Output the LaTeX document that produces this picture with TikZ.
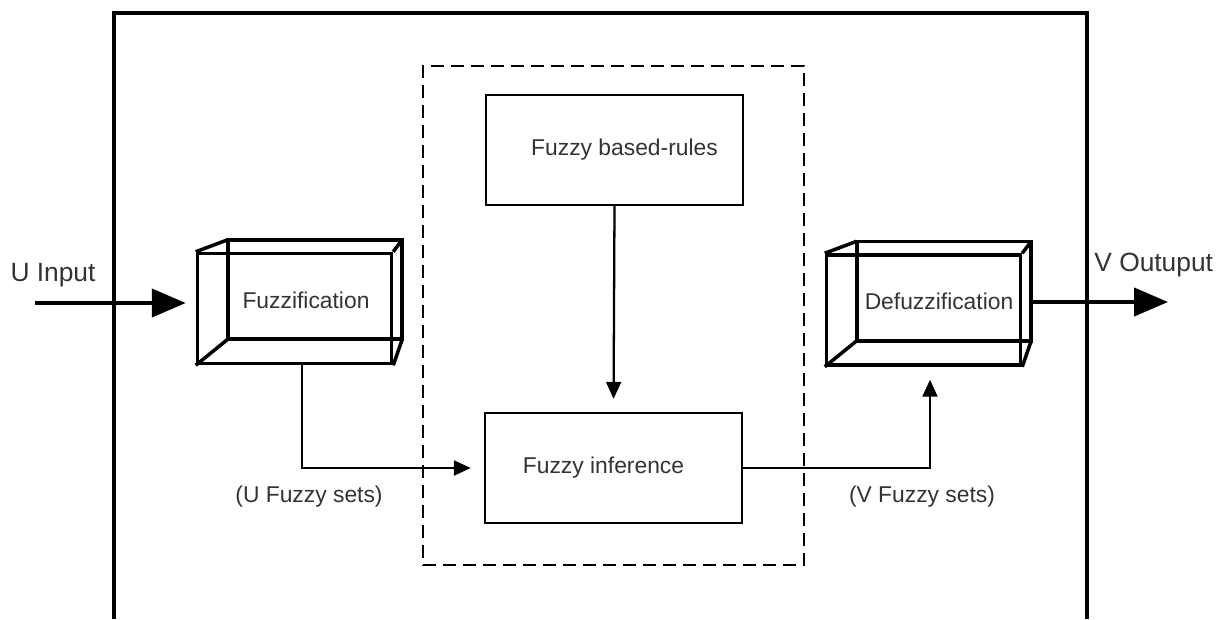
\documentclass[tikz,border=0pt]{standalone}
\usepackage{fontspec}
\setmainfont{Liberation Sans}
\usetikzlibrary{calc}
\usetikzlibrary{arrows.meta}

\begin{document}
\begin{tikzpicture}[x=0.02cm,y=-0.02cm,
		procbox/.style={rectangle,draw,line width=1.4pt,minimum width=5.14cm,minimum height=2.2cm,inner sep=0pt,font=\fontsize{13}{15}\selectfont,text=black!80},
		enginebox/.style={rectangle,draw,line width=1.6pt,dash pattern=on 0.26cm off 0.14cm,minimum width=7.62cm,minimum height=9.98cm,inner sep=0pt},
		cubefront/.style={rectangle,draw,line width=2pt,minimum width=3.88cm,minimum height=2.2cm,inner sep=0pt},
		cubeline/.style={line width=2pt},
		txt/.style={font=\fontsize{13}{15}\selectfont,text=black!80,inner sep=0pt},
		iotxt/.style={font=\fontsize{15}{17}\selectfont,text=black!80,inner sep=0pt},
		flow/.style={line width=1.3pt,-{Triangle[length=0.34cm,width=0.3cm]},shorten >=0.26cm},
		bigflow/.style={line width=2.4pt,-{Triangle[length=0.68cm,width=0.56cm]}}
		]
		\fill[white] (0,0) rectangle (1219,619);
		\useasboundingbox (0,0) rectangle (1219,619);

		% system frame, open at the bottom
		\draw[line width=2.3pt] (114,619) -- (114,13) -- (1087,13) -- (1087,619);

		% inference engine
		\node (engine) [enginebox] at (613.5,315.5) {};
		\node (rules) [procbox] at (614.5,150) {\hspace*{0.4cm}Fuzzy based-rules};
		\node (infer) [procbox] at (613.5,468) {Fuzzy inference\hspace*{0.4cm}};

		% the two 3d blocks
		\node (fuzz) [cubefront] at (294.5,308.5) {};
		\node (defuzz) [cubefront] at (923.5,310) {};
		\foreach \c in {fuzz,defuzz} {
			\draw[cubeline] ($(\c.north west)+(32,-12)$) rectangle ($(\c.south east)+(9,-26)$);
			\draw[cubeline] (\c.north west) -- ++(32,-12)
				(\c.north east) -- ++(9,-12)
				(\c.south east) -- ++(9,-26)
				(\c.south west) -- ++(32,-26);
		}
		\node (fuzzlabel) [txt] at (306,300) {Fuzzification};
		\node (defuzzlabel) [txt] at (939,301) {Defuzzification};

		% input / output
		\coordinate (uin) at (35,303);
		\coordinate (vout) at (1168,302);
		\node (ulabel) [iotxt] at (53,275) {U Input};
		\node (vlabel) [iotxt,anchor=west] at (1094,265) {V Outuput};
		\draw[bigflow,shorten >=0.2cm] (uin) -- (uin -| fuzz.west);
		\draw[bigflow] ($(defuzz.east |- vout)+(9,0)$) -- (vout);

		% fuzzy sets between the blocks
		\draw[flow] ([xshift=0.15cm]fuzz.south) |- (infer.west);
		\draw[flow] (rules.south) -- (infer.north);
		\draw[flow] (infer.east) -| ([xshift=0.13cm]defuzz.south);
		\node (usets) [txt] at (309,497) {(U Fuzzy sets)};
		\node (vsets) [txt] at (922,497) {(V Fuzzy sets)};
\end{tikzpicture}
\end{document}
